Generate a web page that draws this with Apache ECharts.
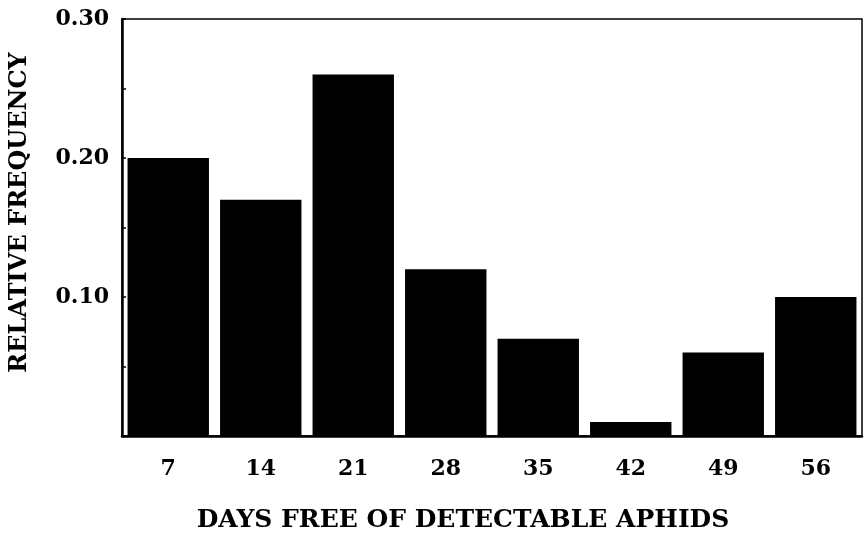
<!DOCTYPE html>
<html>
<head>
<meta charset="utf-8">
<script src="https://cdn.jsdelivr.net/npm/echarts@6/dist/echarts.min.js"></script>
<style>
  html, body { margin: 0; padding: 0; background: #fff; }
  #chart { width: 865px; height: 538px; }
</style>
</head>
<body>
<div id="chart"></div>
<script>
// Days free of detectable aphids (bins) and their relative frequency
const days = ['7', '14', '21', '28', '35', '42', '49', '56'];
const relativeFrequency = [0.20, 0.17, 0.26, 0.12, 0.07, 0.01, 0.06, 0.10];
// Only these y values carry a printed label; the others get a bare tick
const yTickLabels = [0.10, 0.20, 0.30];

const FONT = '"DejaVu Serif", "Liberation Serif", serif';

const chart = echarts.init(document.getElementById('chart'), null, { renderer: 'canvas' });

chart.setOption({
  animation: false,
  backgroundColor: '#ffffff',
  grid: {
    left: 121, right: 3, top: 19, bottom: 100,
    show: true, borderColor: '#000', borderWidth: 1.5, backgroundColor: 'transparent'
  },
  xAxis: {
    type: 'category',
    data: days,
    name: 'DAYS FREE OF DETECTABLE APHIDS',
    nameLocation: 'middle',
    nameGap: 72,
    nameTextStyle: {
      fontFamily: FONT, fontWeight: 'bold', fontSize: 25, color: '#000',
      padding: [0, 58, 0, 0]
    },
    axisLine: { show: true, lineStyle: { color: '#000', width: 2.5 } },
    axisTick: { show: false },
    axisLabel: { fontFamily: FONT, fontWeight: 'bold', fontSize: 22, color: '#000', margin: 22 }
  },
  yAxis: {
    type: 'value',
    min: 0, max: 0.30, interval: 0.05,
    name: 'RELATIVE FREQUENCY',
    nameLocation: 'middle',
    nameGap: 90,
    nameTextStyle: {
      fontFamily: FONT, fontWeight: 'bold', fontSize: 24, color: '#000',
      padding: [0, 0, 0, 30]
    },
    axisLine: { show: true, lineStyle: { color: '#000', width: 2.5 } },
    axisTick: { show: true, inside: true, length: 4, lineStyle: { color: '#000', width: 1.5 } },
    splitLine: { show: false },
    axisLabel: {
      fontFamily: FONT, fontWeight: 'bold', fontSize: 22, color: '#000', margin: 13,
      formatter: function (v) {
        return yTickLabels.some(t => Math.abs(t - v) < 1e-9) ? v.toFixed(2) : '';
      }
    }
  },
  series: [{
    type: 'bar',
    data: relativeFrequency,
    barCategoryGap: '12%',
    itemStyle: { color: '#000' }
  }]
});
</script>
</body>
</html>
